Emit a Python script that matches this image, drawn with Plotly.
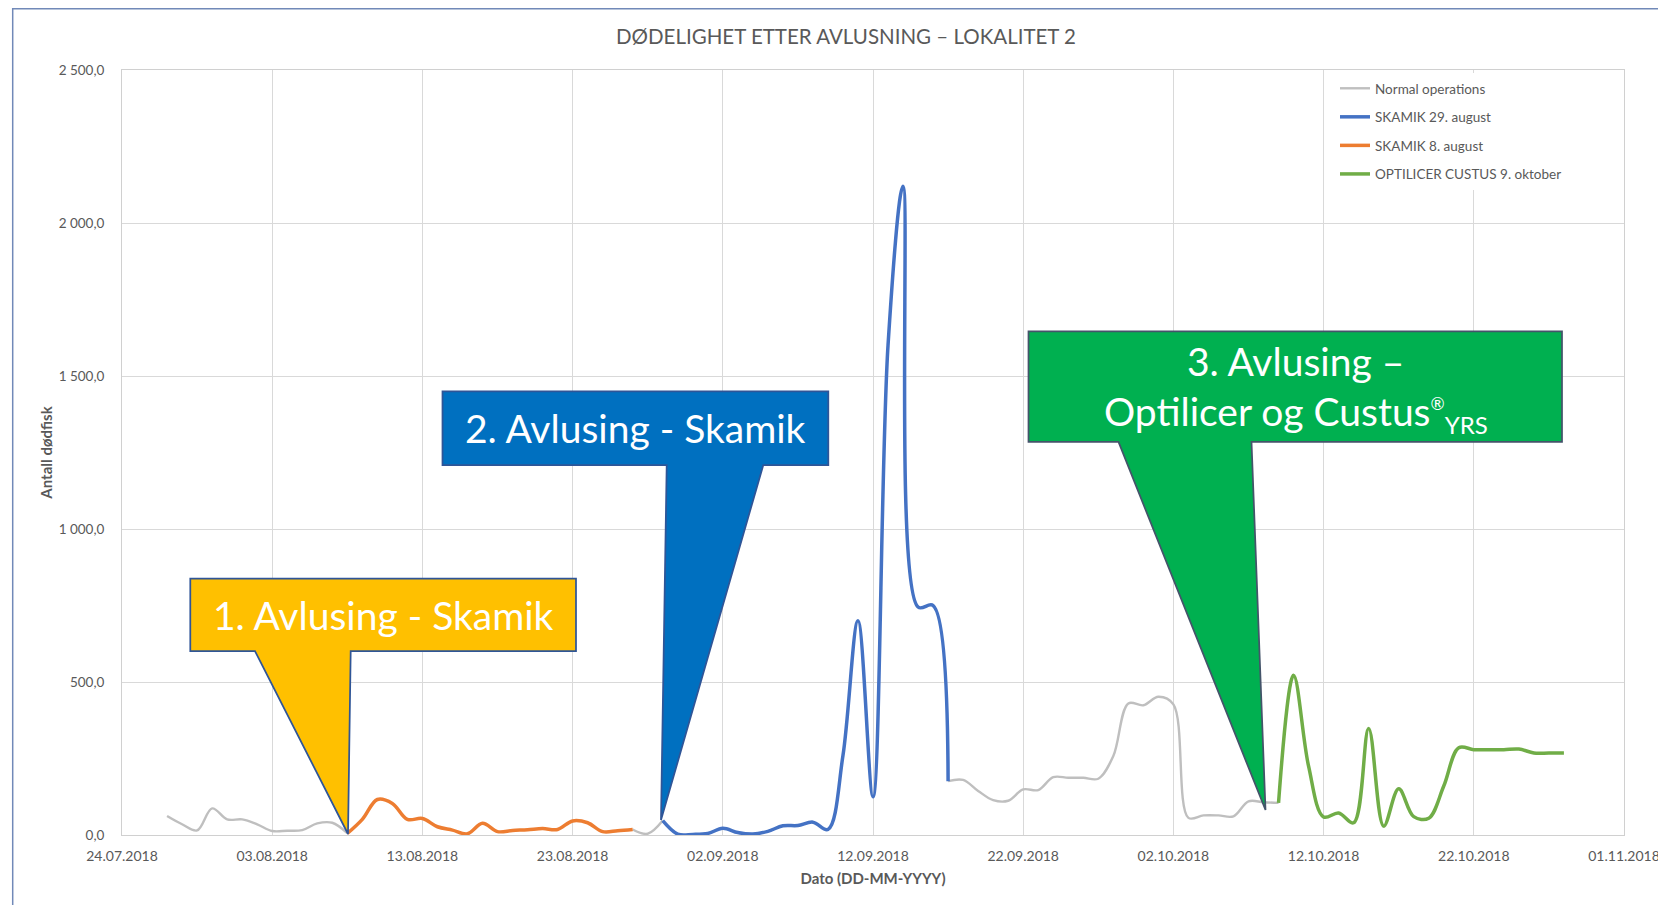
import pandas as pd
import plotly.graph_objects as go

# ---------------- data (daily values) ----------------
normal_start = "2018-07-27"
normal_values = [62, 35, 15, 87, 51, 51, 35, 13, 14, 16, 38, 40, 6,
                 None, None, None, None, None, None, None, None, None,
                 None, None, None, None, None, None, None, None, None,
                 18, 4, 47,
                 None, None, None, None, None, None, None, None, None,
                 None, None, None, None, None, None, None, None, None,
                 176, 180, 144, 114, 112, 149, 147, 189, 187, 187, 184,
                 258, 430, 424, 452, 427, 56, 64, 64, 61, 110, 107, 105]

skamik_aug29_start = "2018-08-29"
skamik_aug29_values = [47, 3, 2, 5, 22, 8, 3, 12, 30, 31, 42, 18, 260, 700,
                       125, 1600, 2120, 745, 750, 176]

skamik_aug8_start = "2018-08-08"
skamik_aug8_values = [5, 51, 116, 103, 51, 54, 27, 16, 4, 38, 11, 15, 17, 21,
                      18, 46, 40, 11, 14, 18]

optilicer_start = "2018-10-09"
optilicer_values = [105, 522, 225, 59, 72, 40, 348, 29, 151, 60, 55, 160, 285,
                    279, 279, 279, 281, 268, 268, 268]

series_names = ["Normal operations", "SKAMIK 29. august", "SKAMIK 8. august",
                "OPTILICER CUSTUS 9. oktober"]

x_tick_dates = ["2018-07-24", "2018-08-03", "2018-08-13", "2018-08-23",
                "2018-09-02", "2018-09-12", "2018-09-22", "2018-10-02",
                "2018-10-12", "2018-10-22", "2018-11-01"]
x_tick_labels = ["24.07.2018", "03.08.2018", "13.08.2018", "23.08.2018",
                 "02.09.2018", "12.09.2018", "22.09.2018", "02.10.2018",
                 "12.10.2018", "22.10.2018", "01.11.2018"]
y_tick_values = [0, 500, 1000, 1500, 2000, 2500]

title_text = "DØDELIGHET ETTER AVLUSNING – LOKALITET 2"
x_title = "Dato (DD-MM-YYYY)"
y_title = "Antall dødfisk"
callout_texts = ["1. Avlusing - Skamik", "2. Avlusing - Skamik",
                 "3. Avlusing –",
                 "Optilicer og Custus<sup><span style='font-size:17px'>®</span></sup>"
                 "<sub><span style='font-size:24px'>YRS</span></sub>"]

# ---------------- layout geometry ----------------
W, H = 1658, 905
ML, MR, MT, MB = 122, 34, 70, 70
PW, PH = W - ML - MR, H - MT - MB

def px(x):
    return (x - ML) / PW

def py(y):
    return (MT + PH - y) / PH

def path(points):
    s = "M " + " L ".join(f"{px(x):.5f},{py(y):.5f}" for x, y in points)
    return s + " Z"

FONT = "Lato, 'Open Sans', sans-serif"
TXT = "#595959"

def days(start, values):
    return pd.date_range(start, periods=len(values), freq="D")

fig = go.Figure()
styles = [
    (normal_start, normal_values, "#BFBFBF", 2.4),
    (skamik_aug29_start, skamik_aug29_values, "#4472C4", 3.5),
    (skamik_aug8_start, skamik_aug8_values, "#ED7D31", 3.5),
    (optilicer_start, optilicer_values, "#70AD47", 3.5),
]
for i, ((start, vals, col, w), name) in enumerate(zip(styles, series_names)):
    fig.add_trace(go.Scatter(
        x=days(start, vals), y=vals, name=name, mode="lines",
        line=dict(color=col, width=w, shape="spline", smoothing=1),
        connectgaps=False, legendgroup=f"g{i}", hoverinfo="x+y+name"))

# ---------------- callouts ----------------
callouts = [
    ([(190.3, 578.5), (576, 578.5), (576, 651), (350.7, 651), (348, 834),
      (255, 651), (190.3, 651)], "#FFC000", "#2F5597"),
    ([(442.5, 391.5), (828.3, 391.5), (828.3, 465), (763.3, 465), (661, 820),
      (666.7, 465), (442.5, 465)], "#0070C0", "#2F5597"),
    ([(1028.5, 331.5), (1562, 331.5), (1562, 442), (1251.5, 442),
      (1265.5, 810), (1118.5, 442), (1028.5, 442)], "#00B050", "#44546A"),
]
shapes = []
for pts, fill, edge in callouts:
    shapes.append(dict(type="path", xref="paper", yref="paper", path=path(pts),
                       fillcolor=fill, line=dict(color=edge, width=1.75),
                       layer="above"))
# chart-area border (only top and left visible in the window)
shapes.append(dict(type="rect", xref="paper", yref="paper",
                   x0=px(12.7), y0=py(8.7), x1=px(1720), y1=py(980),
                   line=dict(color="#7189B8", width=1.5), fillcolor="rgba(0,0,0,0)",
                   layer="above"))

cfont = dict(family=FONT, size=39, color="white")
annotations = [
    dict(text=callout_texts[0], x=px(383), y=py(615)),
    dict(text=callout_texts[1], x=px(635.5), y=py(428)),
    dict(text=callout_texts[2], x=px(1295.5), y=py(361)),
    dict(text=callout_texts[3], x=px(1295.5), y=py(414)),
]
for a in annotations:
    a.update(xref="paper", yref="paper", showarrow=False, font=cfont,
             xanchor="center", yanchor="middle")

fig.update_layout(
    width=W, height=H,
    margin=dict(l=ML, r=MR, t=MT, b=MB, autoexpand=False),
    paper_bgcolor="white", plot_bgcolor="white",
    separators=", ",
    font=dict(family=FONT, color=TXT),
    title=dict(text=title_text, x=px(846), xref="paper", xanchor="center",
               y=1 - 37 / H, yref="container", yanchor="middle",
               font=dict(family=FONT, size=20.5, color=TXT)),
    showlegend=True,
    legend=dict(x=px(1335), y=py(73), xanchor="left", yanchor="top",
                bgcolor="white", borderwidth=0, tracegroupgap=8,
                font=dict(family=FONT, size=13.5, color=TXT)),
    xaxis=dict(type="date", range=[x_tick_dates[0], x_tick_dates[-1]],
               tickmode="array", tickvals=x_tick_dates, ticktext=x_tick_labels,
               ticklabeloverflow="allow",
               showgrid=True, gridcolor="#D9D9D9", gridwidth=1,
               showline=True, linecolor="#D0D0D0", linewidth=1, mirror=True,
               ticks="", zeroline=False, ticklabelstandoff=8,
               tickfont=dict(family=FONT, size=14, color=TXT),
               title=dict(text=x_title, standoff=10,
                          font=dict(family=FONT, size=15, color=TXT, weight="bold"))),
    yaxis=dict(range=[0, 2500], tickmode="array", tickvals=y_tick_values,
               tickformat=",.1f",
               showgrid=True, gridcolor="#D9D9D9", gridwidth=1,
               showline=True, linecolor="#D0D0D0", linewidth=1, mirror=True,
               ticks="", zeroline=False, ticklabelstandoff=14,
               tickfont=dict(family=FONT, size=13.5, color=TXT),
               title=dict(text=y_title, standoff=2,
                          font=dict(family=FONT, size=15, color=TXT, weight="bold"))),
    shapes=shapes,
    annotations=annotations,
)

fig.write_html("out.html", config={"displayModeBar": False},
               post_script="document.body.style.margin='0';")
